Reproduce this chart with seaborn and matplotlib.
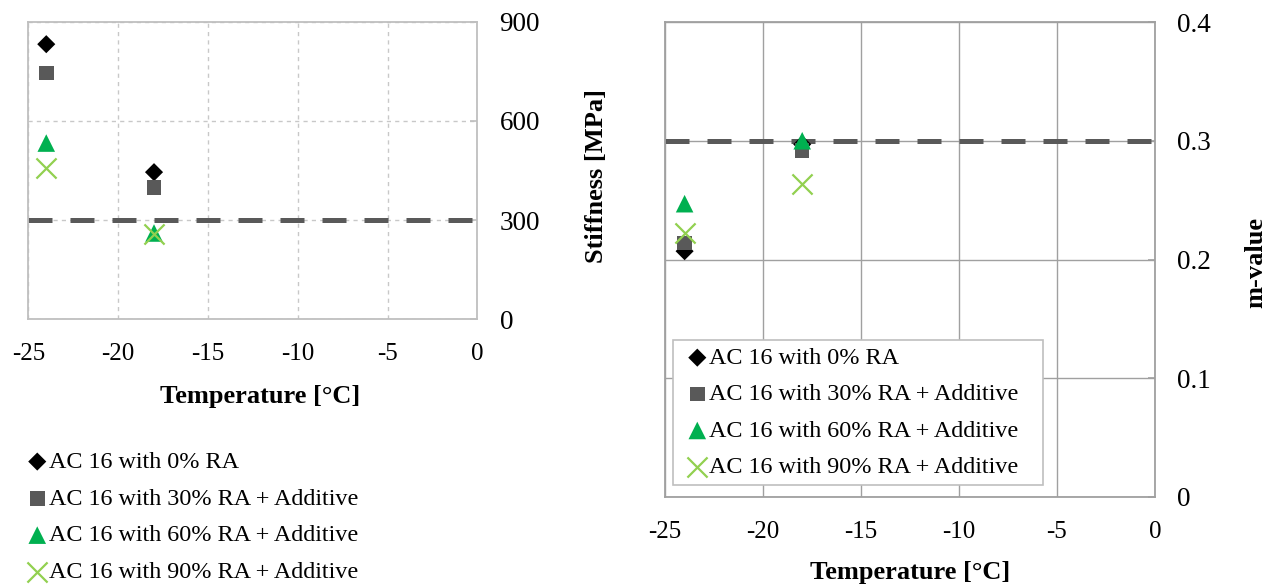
import matplotlib
matplotlib.use("Agg")
import matplotlib.pyplot as plt
import seaborn as sns
import pandas as pd

# ---- data ----
temperature = [-24, -18]
series_names = ["AC 16 with 0% RA",
                "AC 16 with 30% RA + Additive",
                "AC 16 with 60% RA + Additive",
                "AC 16 with 90% RA + Additive"]
stiffness_0 = [832, 445]
stiffness_30 = [745, 399]
stiffness_60 = [533, 261]
stiffness_90 = [457, 258]
mvalue_0 = [0.207, 0.297]
mvalue_30 = [0.214, 0.292]
mvalue_60 = [0.247, 0.300]
mvalue_90 = [0.222, 0.264]
stiffness_limit = 300
mvalue_limit = 0.3
x_ticks = [-25, -20, -15, -10, -5, 0]
stiff_ticks = [0, 300, 600, 900]
m_ticks = [0, 0.1, 0.2, 0.3, 0.4]
m_tick_labels = ["0", "0.1", "0.2", "0.3", "0.4"]

sns.set_style("white")
plt.rcParams['font.family'] = ['Liberation Serif', 'DejaVu Serif']
plt.rcParams['axes.unicode_minus'] = False
plt.rcParams['text.color'] = 'black'
plt.rcParams['axes.labelcolor'] = 'black'
plt.rcParams['xtick.color'] = 'black'
plt.rcParams['ytick.color'] = 'black'

colors = ["#000000", "#595959", "#00b050", "#92d050"]
markers = ["D", "s", "^", "x"]
sizes = [85, 110, 160, 210]

stiff_df = pd.DataFrame({
    "T": temperature * 4,
    "val": stiffness_0 + stiffness_30 + stiffness_60 + stiffness_90,
    "series": [n for n in series_names for _ in temperature],
})
m_df = pd.DataFrame({
    "T": temperature * 4,
    "val": mvalue_0 + mvalue_30 + mvalue_60 + mvalue_90,
    "series": [n for n in series_names for _ in temperature],
})

fig = plt.figure(figsize=(12.68, 5.85), dpi=100)
ax1 = fig.add_axes([28.3/1268, 1-319.3/585, 449/1268, 297.6/585])
ax2 = fig.add_axes([665/1268, 1-497/585, 490/1268, 475/585])

XT = 18
YT = 19.5
LFS = 17.4
LAB = 19

def draw(ax, df, limit, grid_ls, grid_c, spine_c):
    ax.axhline(limit, color="#595959", lw=3.6, ls=(0, (4.8, 3.6)), zorder=2)
    for name, c, mk, s in zip(series_names, colors, markers, sizes):
        sub = df[df.series == name]
        kw = dict(marker=mk, s=s, color=c, zorder=3, label=name)
        if mk == "x":
            kw["linewidth"] = 1.6
        else:
            kw["edgecolor"] = "none"
        sns.scatterplot(data=sub, x="T", y="val", ax=ax, **kw)
    ax.set_xlim(-25, 0)
    ax.set_xticks(x_ticks)
    ax.yaxis.tick_right()
    ax.grid(True, ls=grid_ls, color=grid_c, lw=1)
    ax.set_axisbelow(True)
    for sp in ax.spines.values():
        sp.set_color(spine_c)
        sp.set_linewidth(1.3)
    ax.tick_params(axis="both", colors=spine_c, labelcolor="black",
                   length=5, width=1.2)
    ax.tick_params(axis="x", direction="out", pad=12, labelsize=XT)
    ax.tick_params(axis="y", direction="in", pad=16, labelsize=YT)
    ax.set_xlabel("")
    ax.set_ylabel("")
    if ax.get_legend():
        ax.get_legend().remove()

draw(ax1, stiff_df, stiffness_limit, (0, (3, 3)), "#c8c8c8", "#bfbfbf")
ax1.set_ylim(0, 900)
ax1.set_yticks(stiff_ticks)
draw(ax2, m_df, mvalue_limit, "-", "#a0a0a0", "#a0a0a0")
ax2.set_ylim(0, 0.4)
ax2.set_yticks(m_ticks)
ax2.set_yticklabels(m_tick_labels)

fig.text(260/1268, 1-397/585, "Temperature [°C]", ha="center", va="center",
         fontsize=LAB, fontweight="bold")
fig.text(910/1268, 1-572/585, "Temperature [°C]", ha="center", va="center",
         fontsize=LAB, fontweight="bold")
fig.text(597/1268, 1-176/585, "Stiffness [MPa]", ha="center", va="center",
         rotation=90, fontsize=LAB, fontweight="bold")
fig.text(1256/1268, 1-262/585, "m-value", ha="center", va="center",
         rotation=90, fontsize=LAB, fontweight="bold")

h, l = ax1.get_legend_handles_labels()
fig.legend(h, l, loc="upper left", bbox_to_anchor=(30/1268, 1-451/585),
           frameon=False, fontsize=LFS, handlelength=0.6, handletextpad=0.2,
           labelspacing=0.615, borderaxespad=0, borderpad=0)
h2, l2 = ax2.get_legend_handles_labels()
leg2 = ax2.legend(h2, l2, loc="lower left",
                  bbox_to_anchor=(8/490, 12/475, 370/490, 145/475),
                  mode="expand",
                  frameon=True, fancybox=False, fontsize=LFS, handlelength=1.45,
                  handletextpad=-0.22, labelspacing=0.6, borderaxespad=0,
                  borderpad=0.28, framealpha=1)
leg2.get_frame().set_edgecolor("#bfbfbf")
leg2.get_frame().set_linewidth(1.2)

fig.savefig("out.png", dpi=100)
